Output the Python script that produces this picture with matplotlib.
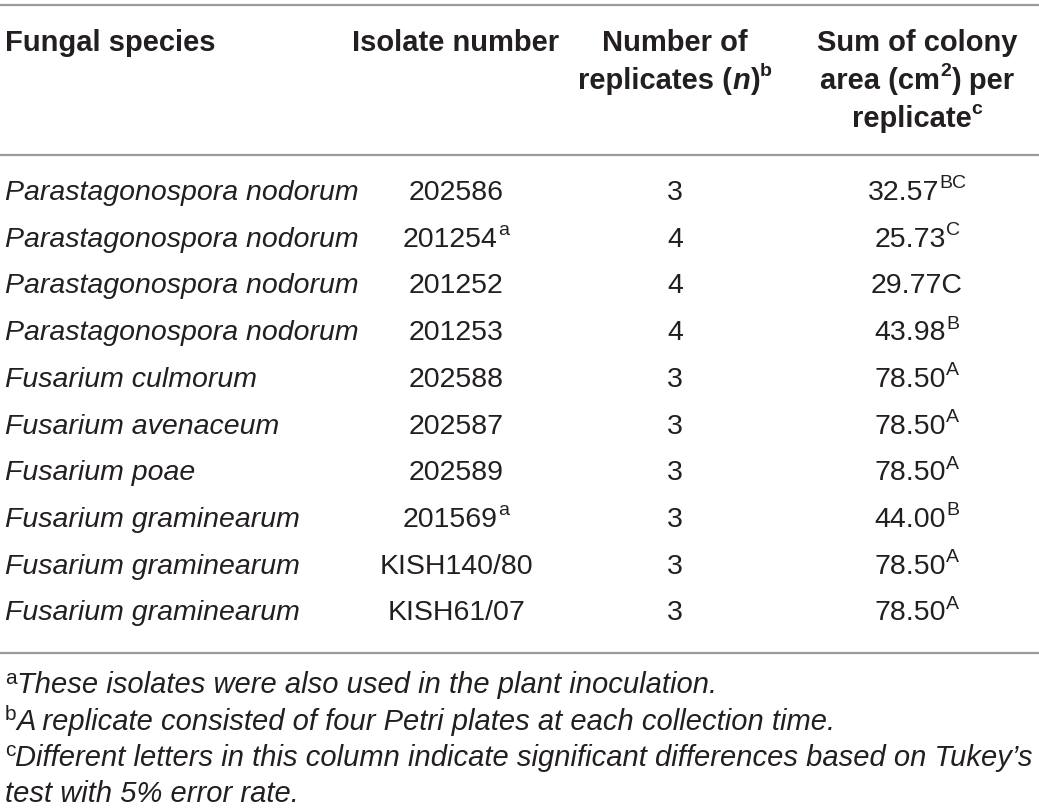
import matplotlib
matplotlib.use("Agg")
import matplotlib.pyplot as plt

# Table contents
species = ["Parastagonospora nodorum"] * 4 + [
    "Fusarium culmorum", "Fusarium avenaceum", "Fusarium poae",
    "Fusarium graminearum", "Fusarium graminearum", "Fusarium graminearum"]
isolates = ["202586", "201254", "201252", "201253", "202588",
            "202587", "202589", "201569", "KISH140/80", "KISH61/07"]
isolate_notes = ["", "a", "", "", "", "", "", "a", "", ""]
replicates = [3, 4, 4, 4, 3, 3, 3, 3, 3, 3]
colony_area = [32.57, 25.73, 29.77, 43.98, 78.50, 78.50, 78.50, 44.00, 78.50, 78.50]
tukey_letters = ["BC", "C", "C", "B", "A", "A", "A", "B", "A", "A"]
letter_raised = [True, True, False, True, True, True, True, True, True, True]
footnotes = [("a", "These isolates were also used in the plant inoculation."),
             ("b", "A replicate consisted of four Petri plates at each collection time."),
             ("c", "Different letters in this column indicate significant differences based on Tukey\u2019s"),
             ("", "test with 5% error rate.")]

W, H = 1039, 810
ink = "#231f20"
rule = "#9a9a9a"
plt.rcParams["font.family"] = ["Liberation Sans", "DejaVu Sans"]

fig = plt.figure(figsize=(W / 100, H / 100), dpi=100)
ax = fig.add_axes([0, 0, 1, 1])
ax.set_xlim(0, W)
ax.set_ylim(H, 0)
ax.axis("off")
renderer = fig.canvas.get_renderer()

HEAD_FS = 21
BODY_FS = 20.5
FOOT_FS = 21
SUP = 14


def rich(x, y, parts, ha="center", size=BODY_FS, weight="normal", sup_size=SUP, rise=9):
    """parts: list of (text, kind); kind: 'n' normal, 'i' italic, 's' superscript."""
    objs = []
    for txt, kind in parts:
        if kind == "s":
            t = ax.text(0, y - rise, txt, fontsize=sup_size, va="center", ha="left",
                        color=ink, fontweight=weight)
        else:
            t = ax.text(0, y, txt, fontsize=size, va="center", ha="left",
                        color=ink, fontweight=weight,
                        fontstyle="italic" if kind == "i" else "normal")
        objs.append(t)
    widths = [o.get_window_extent(renderer).width for o in objs]
    total = sum(widths)
    x0 = x - total / 2 if ha == "center" else x
    for o, w in zip(objs, widths):
        o.set_x(x0)
        x0 += w


# rules
for yy in (5, 155, 653):
    ax.plot([0, W], [yy, yy], color=rule, lw=1.6, solid_capstyle="butt")

# header
col_x = [5, 456, 675, 917]
hd = dict(weight="bold", size=HEAD_FS)
rich(col_x[0], 43, [("Fungal species", "n")], ha="left", **hd)
rich(col_x[1], 43, [("Isolate number", "n")], **hd)
rich(col_x[2], 43, [("Number of", "n")], **hd)
rich(col_x[2], 81, [("replicates (", "n"), ("n", "i"), (")", "n"), ("b", "s")], **hd)
rich(col_x[3], 43, [("Sum of colony", "n")], **hd)
rich(col_x[3], 81, [("area (cm", "n"), ("2", "s"), (") per", "n")], **hd)
rich(col_x[3], 119, [("replicate", "n"), ("c", "s")], **hd)

# body
row_y0, row_dy = 193, 46.7
for i in range(len(species)):
    y = row_y0 + i * row_dy
    rich(col_x[0], y, [(species[i], "i")], ha="left")
    iso = [(isolates[i], "n")]
    if isolate_notes[i]:
        iso.append((isolate_notes[i], "s"))
    rich(col_x[1], y, iso)
    rich(col_x[2], y, [(str(replicates[i]), "n")])
    val = f"{colony_area[i]:.2f}"
    if letter_raised[i]:
        rich(col_x[3], y, [(val, "n"), (tukey_letters[i], "s")])
    else:
        rich(col_x[3], y, [(val + tukey_letters[i], "n")])

# footnotes
foot_y = [685, 722, 758, 794]
for (mark, txt), y in zip(footnotes, foot_y):
    parts = [(mark, "s"), (txt, "i")] if mark else [(txt, "i")]
    rich(5, y, parts, ha="left", size=FOOT_FS, sup_size=15, rise=7)

fig.savefig("out.png", dpi=100)
